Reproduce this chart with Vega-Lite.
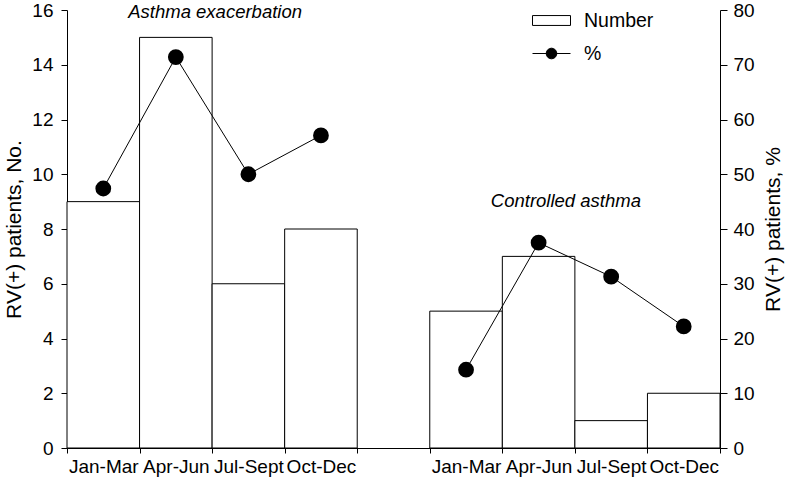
{
  "$schema": "https://vega.github.io/schema/vega-lite/v6.json",
  "width": 653,
  "height": 438,
  "autosize": "none",
  "padding": {"left": 67, "top": 10, "right": 74, "bottom": 32},
  "config": {
    "view": {"stroke": null},
    "font": "Liberation Sans",
    "axis": {
      "domainColor": "black", "tickColor": "black", "labelColor": "black", "titleColor": "black",
      "labelFont": "Liberation Sans", "titleFont": "Liberation Sans",
      "labelFontSize": 19, "titleFontSize": 21, "titleFontWeight": "normal", "grid": false,
      "domainWidth": 1, "tickWidth": 1
    },
    "legend": {"labelFont": "Liberation Sans", "labelFontSize": 19.5, "labelColor": "black"}
  },
  "datasets": {
    "seasons": [
      {"slot": "Exacerbation: Jan-Mar", "group": "Asthma exacerbation", "number": 9, "pct": 47.4},
      {"slot": "Exacerbation: Apr-Jun", "group": "Asthma exacerbation", "number": 15, "pct": 71.4},
      {"slot": "Exacerbation: Jul-Sept", "group": "Asthma exacerbation", "number": 6, "pct": 50.0},
      {"slot": "Exacerbation: Oct-Dec", "group": "Asthma exacerbation", "number": 8, "pct": 57.1},
      {"slot": "Controlled: Jan-Mar", "group": "Controlled asthma", "number": 5, "pct": 14.3},
      {"slot": "Controlled: Apr-Jun", "group": "Controlled asthma", "number": 7, "pct": 37.5},
      {"slot": "Controlled: Jul-Sept", "group": "Controlled asthma", "number": 1, "pct": 31.3},
      {"slot": "Controlled: Oct-Dec", "group": "Controlled asthma", "number": 2, "pct": 22.2}
    ],
    "noteA": [
      {"label": "Asthma exacerbation", "slot": "Exacerbation: Apr-Jun", "y": 15.72}
    ],
    "noteB": [
      {"label": "Controlled asthma", "slot": "Controlled: Jul-Sept", "y": 8.8}
    ]
  },
  "layer": [
    {
      "layer": [
        {
          "data": {"name": "seasons"},
          "mark": {"type": "bar", "stroke": "black", "strokeWidth": 1, "width": {"band": 1}},
          "encoding": {
            "x": {
              "field": "slot", "type": "nominal", "sort": null,
              "scale": {
                "domain": ["Exacerbation: Jan-Mar", "Exacerbation: Apr-Jun", "Exacerbation: Jul-Sept", "Exacerbation: Oct-Dec", "gap", "Controlled: Jan-Mar", "Controlled: Apr-Jun", "Controlled: Jul-Sept", "Controlled: Oct-Dec"],
                "paddingInner": 0, "paddingOuter": 0
              },
              "axis": {
                "title": null, "labelAngle": 0, "tickBand": "extent", "tickSize": 5, "labelPadding": 4,
                "labelOverlap": false, "labelBound": false, "labelFlush": false,
                "labelExpr": "datum.value == 'gap' ? '' : split(datum.value, ': ')[1]"
              }
            },
            "y": {
              "field": "number", "type": "quantitative",
              "scale": {"domain": [0, 16], "nice": false},
              "axis": {"title": "RV(+) patients, No.", "values": [0, 2, 4, 6, 8, 10, 12, 14, 16], "tickSize": 6, "labelPadding": 8, "titlePadding": 7}
            },
            "fill": {
              "datum": "Number", "scale": {"range": ["white"]},
              "legend": {
                "title": null, "orient": "none", "legendX": 465, "legendY": -9, "padding": 0,
                "symbolType": "M-1,-0.26H1V0.26H-1Z", "symbolSize": 1444,
                "symbolStrokeColor": "black", "symbolStrokeWidth": 1, "symbolFillColor": "white", "labelOffset": 13
              }
            }
          }
        },
        {
          "data": {"name": "noteA"},
          "mark": {"type": "text", "font": "Liberation Sans", "fontStyle": "italic", "fontSize": 18.5, "align": "center", "baseline": "alphabetic", "color": "black", "dx": 3},
          "encoding": {
            "x": {
              "field": "slot", "type": "nominal", "sort": null, "bandPosition": 1,
              "scale": {
                "domain": ["Exacerbation: Jan-Mar", "Exacerbation: Apr-Jun", "Exacerbation: Jul-Sept", "Exacerbation: Oct-Dec", "gap", "Controlled: Jan-Mar", "Controlled: Apr-Jun", "Controlled: Jul-Sept", "Controlled: Oct-Dec"],
                "paddingInner": 0, "paddingOuter": 0
              }
            },
            "y": {"field": "y", "type": "quantitative", "scale": {"domain": [0, 16], "nice": false}},
            "text": {"field": "label"}
          }
        },
        {
          "data": {"name": "noteB"},
          "mark": {"type": "text", "font": "Liberation Sans", "fontStyle": "italic", "fontSize": 18.5, "align": "center", "baseline": "alphabetic", "color": "black", "dx": -9},
          "encoding": {
            "x": {
              "field": "slot", "type": "nominal", "sort": null, "bandPosition": 0,
              "scale": {
                "domain": ["Exacerbation: Jan-Mar", "Exacerbation: Apr-Jun", "Exacerbation: Jul-Sept", "Exacerbation: Oct-Dec", "gap", "Controlled: Jan-Mar", "Controlled: Apr-Jun", "Controlled: Jul-Sept", "Controlled: Oct-Dec"],
                "paddingInner": 0, "paddingOuter": 0
              }
            },
            "y": {"field": "y", "type": "quantitative", "scale": {"domain": [0, 16], "nice": false}},
            "text": {"field": "label"}
          }
        }
      ]
    },
    {
      "data": {"name": "seasons"},
      "mark": {"type": "line", "strokeWidth": 1, "point": {"filled": true, "fill": "black", "size": 190}},
      "encoding": {
        "x": {
          "field": "slot", "type": "nominal", "sort": null,
          "scale": {
            "domain": ["Exacerbation: Jan-Mar", "Exacerbation: Apr-Jun", "Exacerbation: Jul-Sept", "Exacerbation: Oct-Dec", "gap", "Controlled: Jan-Mar", "Controlled: Apr-Jun", "Controlled: Jul-Sept", "Controlled: Oct-Dec"],
            "paddingInner": 0, "paddingOuter": 0
          }
        },
        "y": {
          "field": "pct", "type": "quantitative",
          "scale": {"domain": [0, 80], "nice": false},
          "axis": {"title": "RV(+) patients, %", "orient": "right", "values": [0, 10, 20, 30, 40, 50, 60, 70, 80], "tickSize": 7, "labelPadding": 6, "titlePadding": 8, "titleAngle": 270, "titleBaseline": "top"}
        },
        "detail": {"field": "group"},
        "stroke": {
          "datum": "%", "scale": {"range": ["black"]},
          "legend": {
            "title": null, "orient": "none", "legendX": 465, "legendY": 24, "padding": 0,
            "symbolType": "M-1,0H1M-0.28,0A0.28,0.28 0 1,1 0.28,0A0.28,0.28 0 1,1 -0.28,0Z", "symbolSize": 1444,
            "symbolStrokeColor": "black", "symbolStrokeWidth": 1, "symbolFillColor": "black", "labelOffset": 13
          }
        }
      }
    }
  ],
  "resolve": {"scale": {"y": "independent"}}
}
